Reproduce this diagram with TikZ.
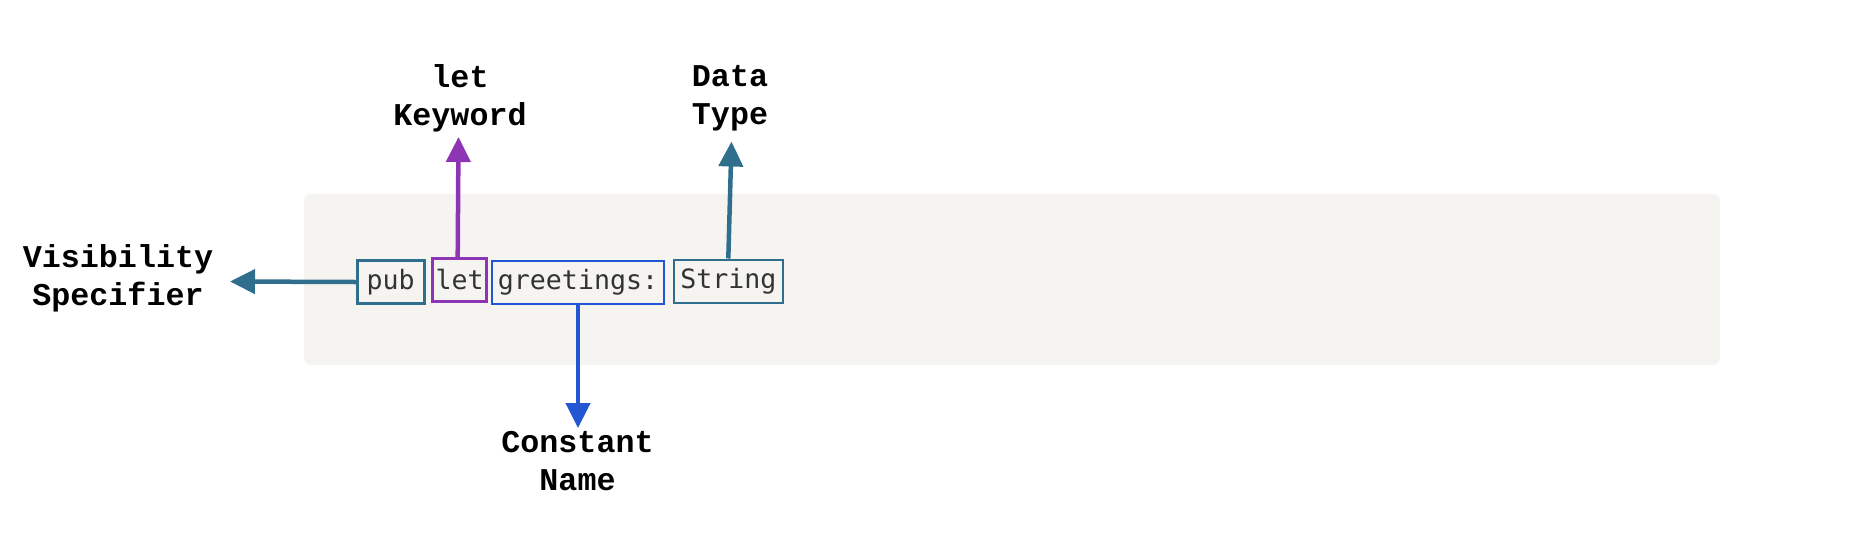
\documentclass[tikz,border=0pt]{standalone}
\usepackage{fontspec}
\usetikzlibrary{arrows.meta}
\newfontfamily\codefont{DejaVu Sans Mono}
\newfontfamily\lblfont{Liberation Mono}
\definecolor{teal1}{HTML}{2F6E8D}
\definecolor{purp1}{HTML}{8E35B6}
\definecolor{blue1}{HTML}{2356D3}
\definecolor{bgc}{HTML}{F5F4F1}
\definecolor{codec}{HTML}{333333}
\tikzset{
  codebox/.style={draw, line width=2.6pt, fill=bgc, text=codec, inner sep=0pt,
    minimum height=43pt, font=\codefont\fontsize{26.6}{30}\selectfont},
  lbl/.style={align=center, inner sep=0pt, text=black,
    font=\lblfont\bfseries\fontsize{31.7}{38}\selectfont},
  arr/.style={line width=4.5pt, -{Triangle[length=25pt,width=24pt]}}
}
\begin{document}
\begin{tikzpicture}[x=1pt,y=-1pt]
\useasboundingbox (0,0) rectangle (1862,547);
\fill[bgc, rounded corners=7pt] (304,194) rectangle (1720,365);
\node[codebox, draw=teal1, minimum width=67pt] (pub) at (390.7,282) {pub};
\node[codebox, draw=purp1, minimum width=54pt] (let) at (459.7,279.7) {let};
\node[codebox, draw=blue1, minimum width=172pt] (greet) at (578,282.3) {greetings:};
\node[codebox, draw=teal1, minimum width=109pt] (str) at (728.3,281.3) {String};
\node[lbl] (vis) at (118,278.5) {Visibility\\Specifier};
\node[lbl] (kw) at (460,98.5) {let\\Keyword};
\node[lbl] (dt) at (730,98.5) {Data\\Type};
\node[lbl] (cn) at (577.5,461) {Constant\\Name};
\coordinate (visTip) at (230,281.5);
\coordinate (kwTip) at (458.5,137);
\coordinate (dtTip) at (731.5,141.5);
\coordinate (cnTip) at (578,428);
\draw[arr, teal1] (pub.west) -- (visTip);
\draw[arr, purp1] ([xshift=-2pt]let.north) -- (kwTip);
\draw[arr, teal1] (str.north) -- (dtTip);
\draw[arr, blue1] (greet.south) -- (cnTip);
\end{tikzpicture}
\end{document}
